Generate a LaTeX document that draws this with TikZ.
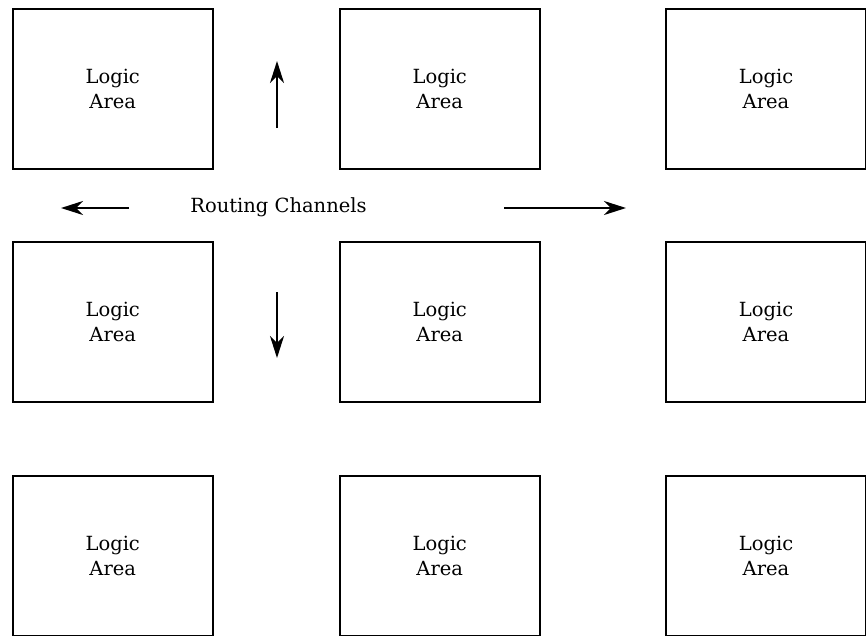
\documentclass[tikz,border=0pt]{standalone}
\usepackage{fontspec}
\setmainfont{DejaVu Serif}
\usetikzlibrary{arrows.meta}
\begin{document}
\begin{tikzpicture}[x=1pt,y=-1pt,
  logicbox/.style={draw,line width=2.5pt,minimum width=200pt,minimum height=160pt,
    inner sep=0pt,align=center,font=\fontsize{19.5}{25}\selectfont},
  chanarrow/.style={line width=2.5pt,-{Stealth[length=22pt,width=14pt,inset=7pt]}},
  lbl/.style={font=\fontsize{19.5}{25}\selectfont,inner sep=0pt}]
\useasboundingbox (0,0) rectangle (866,635);
\node[logicbox] (a11) at (112.75,89) {Logic\\Area};
\node[logicbox] (a12) at (439.75,89) {Logic\\Area};
\node[logicbox] (a13) at (766,89) {Logic\\Area};
\node[logicbox] (a21) at (112.75,322) {Logic\\Area};
\node[logicbox] (a22) at (439.75,322) {Logic\\Area};
\node[logicbox] (a23) at (766,322) {Logic\\Area};
\node[logicbox] (a31) at (112.75,556) {Logic\\Area};
\node[logicbox] (a32) at (439.75,556) {Logic\\Area};
\node[logicbox] (a33) at (766,556) {Logic\\Area};
\node[lbl,anchor=base] (rc) at (278.5,212) {Routing Channels};
\coordinate (upS) at (277,128);
\coordinate (upE) at (277,61);
\coordinate (dnS) at (277,292);
\coordinate (dnE) at (277,358);
\coordinate (lfS) at (129,208);
\coordinate (lfE) at (61,208);
\coordinate (rtS) at (504,208);
\coordinate (rtE) at (626,208);
\draw[chanarrow] (upS) -- (upE);
\draw[chanarrow] (dnS) -- (dnE);
\draw[chanarrow] (lfS) -- (lfE);
\draw[chanarrow] (rtS) -- (rtE);
\end{tikzpicture}
\end{document}
